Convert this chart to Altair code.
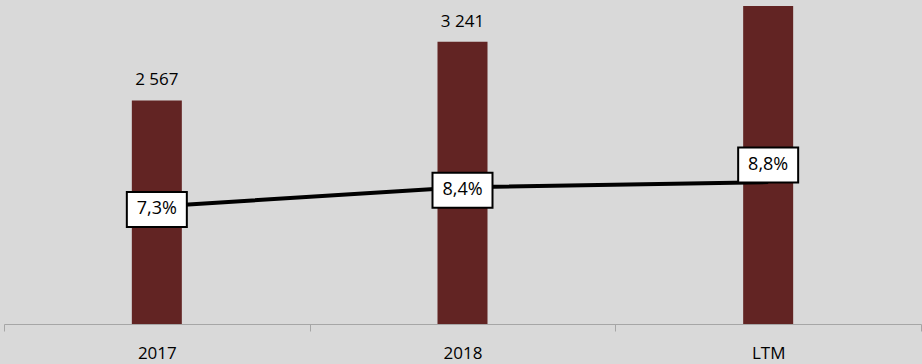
import altair as alt
import pandas as pd

categories = ["2017", "2018", "LTM"]
revenue = [2567, 3241, 3650]
revenue_labels = ["2 567", "3 241", ""]  # LTM label lies outside the visible area in the reference
margin = [7.26, 8.44, 8.76]
margin_labels = ["7,3%", "8,4%", "8,8%"]

df = pd.DataFrame({
    "cat": categories,
    "rev": revenue,
    "rev_label": revenue_labels,
    "margin": margin,
    "margin_label": margin_labels,
})

FONT = "Open Sans"
BAR_COLOR = "#622423"

x = alt.X(
    "cat:N", sort=categories, title=None,
    scale=alt.Scale(paddingInner=0, paddingOuter=0),
    axis=alt.Axis(labelAngle=0, tickBand="extent", domainColor="#a6a6a6",
                  tickColor="#a6a6a6", tickSize=7, domainWidth=1, tickWidth=1,
                  labelFont=FONT, labelFontSize=17, labelColor="#000000",
                  labelPadding=14, grid=False),
)
y_bar = alt.Y("rev:Q", scale=alt.Scale(domain=[0, 3720], nice=False), axis=None)
y_line = alt.Y("margin:Q", scale=alt.Scale(domain=[0, 20], nice=False), axis=None)

base = alt.Chart(df)

bars = base.mark_bar(size=50, color=BAR_COLOR).encode(x=x, y=y_bar)
bar_labels = base.transform_filter(alt.datum.rev_label != "").mark_text(
    dy=-15, baseline="alphabetic", font=FONT, fontSize=17, color="#000000"
).encode(x=x, y=y_bar, text="rev_label:N")

left = alt.layer(bars, bar_labels)

line = base.mark_line(color="black", strokeWidth=4).encode(x=x, y=y_line)

box_shape = "M-1,-0.583L1,-0.583L1,0.583L-1,0.583Z"

def box_layers(data_filter, offset):
    b = base.transform_filter(data_filter).mark_point(
        shape=box_shape, size=3600, fill="white", stroke="black", strokeWidth=2,
        fillOpacity=1, strokeOpacity=1, opacity=1, yOffset=offset,
    ).encode(x=x, y=y_line)
    t = base.transform_filter(data_filter).mark_text(
        font=FONT, fontSize=18, color="#000000", baseline="middle", align="center",
        yOffset=offset,
    ).encode(x=x, y=y_line, text="margin_label:N")
    return [b, t]

right = alt.layer(
    line,
    *box_layers(alt.datum.cat != "LTM", 3),
    *box_layers(alt.datum.cat == "LTM", -17),
)

chart = alt.layer(left, right).resolve_scale(y="independent").properties(
    width=917, height=324,
    background="#d9d9d9",
    autosize=alt.AutoSizeParams(type="none"),
    padding={"left": 4, "top": 0, "right": 1, "bottom": 40},
).configure_view(strokeWidth=0)

chart.save("out.html", embed_options={"renderer": "svg", "actions": False})
